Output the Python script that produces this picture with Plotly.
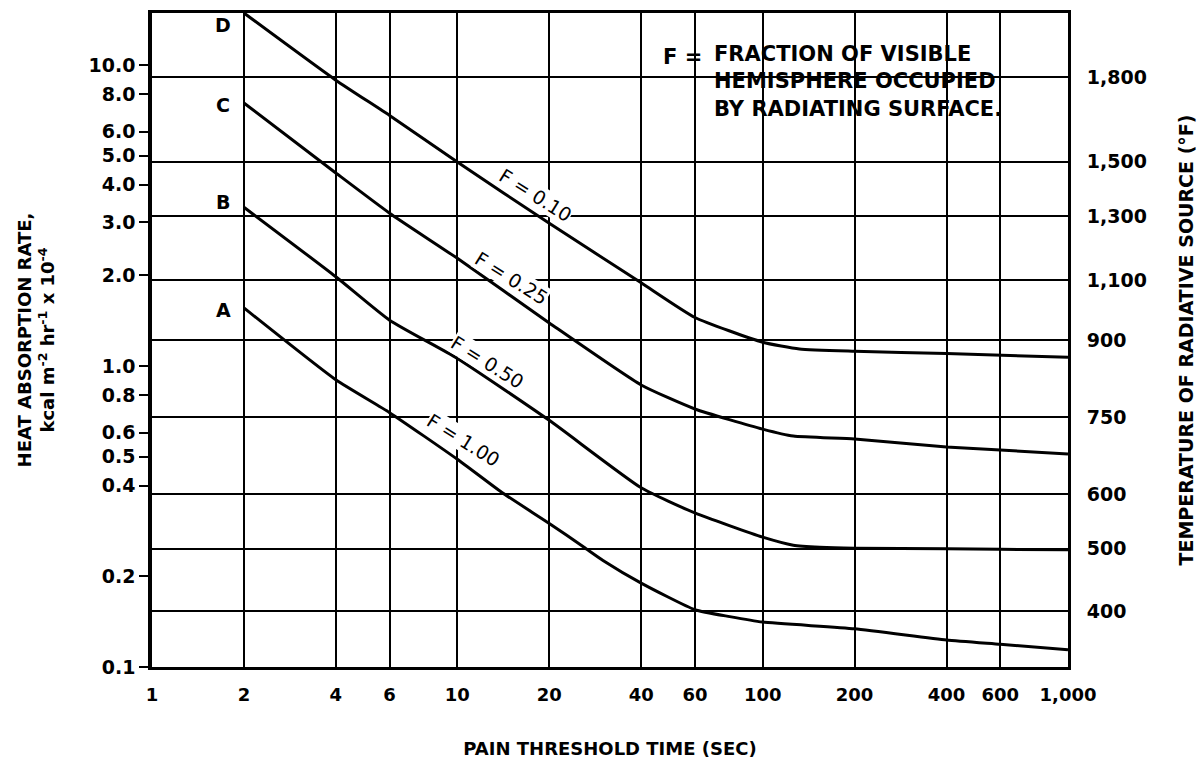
import numpy as np
import plotly.graph_objects as go

# ---------------- data ----------------
# pain threshold time (sec) and heat absorption rate (kcal m^-2 hr^-1 x 10^-4)
time_A = [2, 4, 6, 10, 14, 20, 26, 30, 40, 60, 78, 100, 200, 400, 600, 1000]
rate_A = [1.56, 0.90, 0.70, 0.49, 0.38, 0.30, 0.25, 0.226, 0.19, 0.155, 0.147, 0.141, 0.134, 0.123, 0.119, 0.114]

time_B = [2, 4, 6, 10, 20, 40, 60, 100, 126, 154, 200, 400, 600, 1000]
rate_B = [3.37, 1.98, 1.42, 1.06, 0.66, 0.394, 0.325, 0.270, 0.254, 0.250, 0.248, 0.247, 0.246, 0.245]

time_C = [2, 4, 6, 10, 20, 40, 60, 100, 126, 200, 400, 600, 1000]
rate_C = [7.48, 4.38, 3.22, 2.28, 1.39, 0.865, 0.72, 0.617, 0.585, 0.572, 0.538, 0.526, 0.510]

time_D = [2, 4, 6, 10, 20, 40, 60, 100, 132, 200, 400, 1000]
rate_D = [14.9, 8.91, 6.8, 4.76, 2.98, 1.89, 1.45, 1.20, 1.14, 1.12, 1.10, 1.07]

curve_letters = ["A", "B", "C", "D"]
curve_fractions = ["F = 1.00", "F = 0.50", "F = 0.25", "F = 0.10"]

x_tickvals = [1, 2, 4, 6, 10, 20, 40, 60, 100, 200, 400, 600, 1000]
x_ticktext = ["1", "2", "4", "6", "10", "20", "40", "60", "100", "200", "400", "600", "1,000"]

y_tickvals = [0.1, 0.2, 0.4, 0.5, 0.6, 0.8, 1, 2, 3, 4, 5, 6, 8, 10]
y_ticktext = ["0.1", "0.2", "0.4", "0.5", "0.6", "0.8", "1.0", "2.0", "3.0", "4.0", "5.0", "6.0", "8.0", "10.0"]

# temperature of radiative source (deg F) and the matching heat absorption rate
temp_labels = ["1,800", "1,500", "1,300", "1,100", "900", "750", "600", "500", "400"]
temp_rates = [9.12, 4.77, 3.15, 1.93, 1.22, 0.677, 0.376, 0.247, 0.153]

# ---------------- figure ----------------
FONT = "DejaVu Sans"
fig = go.Figure()

for t, q, name in zip([time_A, time_B, time_C, time_D],
                      [rate_A, rate_B, rate_C, rate_D], curve_letters):
    fig.add_trace(go.Scatter(
        x=t, y=q, mode="lines", name=name, showlegend=False,
        line=dict(color="black", width=3, shape="spline", smoothing=0.5),
        hoverinfo="skip"))

# invisible copy of curve A on the right-hand (temperature) axis so that axis is drawn
fig.add_trace(go.Scatter(x=time_A, y=rate_A, yaxis="y2", mode="lines",
                         line=dict(width=0, color="rgba(0,0,0,0)"),
                         opacity=0, showlegend=False, hoverinfo="skip"))

y_top = 1.173  # log10 of top of plot

fig.update_layout(
    width=1200, height=759,
    margin=dict(l=152, r=132, t=13, b=92),
    paper_bgcolor="white", plot_bgcolor="white",
    font=dict(family=FONT, color="black"),
    xaxis=dict(
        type="log", range=[0, 3],
        tickvals=x_tickvals, ticktext=x_ticktext,
        tickfont=dict(family=FONT, size=18, weight="bold"),
        showgrid=True, gridcolor="black", gridwidth=2,
        showline=True, linecolor="black", linewidth=3, mirror=True,
        ticks="", ticklabelstandoff=9,
        title=dict(text="PAIN THRESHOLD TIME (SEC)", standoff=40,
                   font=dict(family=FONT, size=18, weight="bold")),
        automargin=False, zeroline=False,
    ),
    yaxis=dict(
        type="log", range=[-1, y_top],
        tickvals=y_tickvals, ticktext=y_ticktext,
        tickfont=dict(family=FONT, size=19, weight="bold"),
        showgrid=False,
        showline=True, linecolor="black", linewidth=3.5, mirror=False,
        ticks="outside", ticklen=9, tickwidth=2, tickcolor="black",
        title=dict(text="HEAT ABSORPTION RATE,<br>kcal m<sup>-2</sup> hr<sup>-1</sup> x 10<sup>-4</sup>",
                   standoff=30,
                   font=dict(family=FONT, size=18, weight="bold")),
        automargin=False, zeroline=False,
    ),
    yaxis2=dict(
        type="log", range=[-1, y_top], overlaying="y", side="right",
        tickvals=temp_rates, ticktext=temp_labels,
        tickfont=dict(family=FONT, size=19, weight="bold"),
        showgrid=True, gridcolor="black", gridwidth=2,
        showline=True, linecolor="black", linewidth=3,
        ticks="", ticklabelstandoff=12,
        title=dict(text="TEMPERATURE OF RADIATIVE SOURCE (°F)", standoff=34,
                   font=dict(family=FONT, size=19, weight="bold")),
        automargin=False, zeroline=False,
    ),
)

# white box behind the explanatory note (interrupts the grid like the original)
fig.add_shape(type="rect", xref="paper", yref="paper",
              x0=0.563, x1=0.9825, y0=0.821, y1=0.969,
              fillcolor="white", line=dict(width=0), layer="between")

fig.add_annotation(xref="paper", yref="paper", x=0.6114, y=0.933,
                   xanchor="right", yanchor="middle", showarrow=False,
                   text="F = ", font=dict(family=FONT, size=21, weight="bold"))
fig.add_annotation(xref="paper", yref="paper", x=0.6114, y=0.8945,
                   xanchor="left", yanchor="middle", showarrow=False, align="left",
                   text="FRACTION OF VISIBLE<br>HEMISPHERE OCCUPIED<br>BY RADIATING SURFACE.",
                   font=dict(family=FONT, size=21, weight="bold"))

# curve letters (x, y given as log10 values on the log axes)
letter_pos = {"A": 0.186, "B": 0.545, "C": 0.867, "D": 1.133}
for L in curve_letters:
    fig.add_annotation(x=0.2326, y=letter_pos[L], xref="x", yref="y",
                       showarrow=False, text=L,
                       font=dict(family=FONT, size=19, weight="bold"))

# F labels along the curves
frac_pos = [(1.020, -0.245), (1.099, 0.014), (1.177, 0.293), (1.256, 0.568)]
for lab, (lx, ly) in zip(curve_fractions, frac_pos):
    fig.add_annotation(x=lx, y=ly, xref="x", yref="y", showarrow=False,
                       text=lab, textangle=32, bgcolor="white", borderpad=0,
                       font=dict(family=FONT, size=19))

fig.write_html("out.html", config={"displayModeBar": False},
               post_script="document.body.style.margin='0';")
